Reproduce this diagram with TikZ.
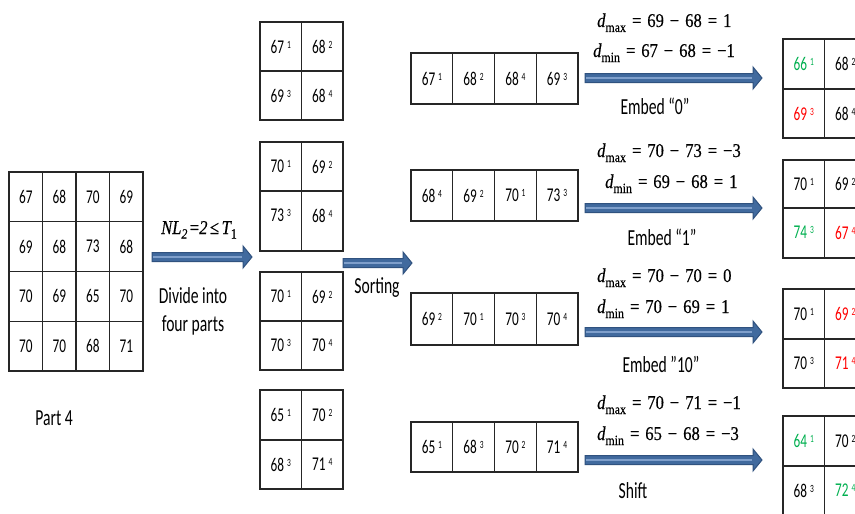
\RequirePackage{fix-cm}
\documentclass[tikz,border=0pt]{standalone}
\usepackage[no-math]{fontspec}
\setmainfont[FakeStretch=0.68]{Carlito}
\newfontfamily\fmfont[FakeStretch=0.85,FakeBold=0.4]{Liberation Serif}
\usepackage{graphicx}
\usetikzlibrary{calc}
\definecolor{arrfill}{HTML}{416A9E}
\definecolor{arrdraw}{HTML}{30527F}
\definecolor{arrlight}{HTML}{7F9FCB}
\definecolor{gr}{HTML}{00B050}
\definecolor{rd}{HTML}{FF0000}
\newcommand\ix[1]{\hspace{3pt}\raisebox{5pt}{\fontsize{11}{11}\selectfont #1}}
\newcommand\dsub[1]{{\itshape d}\raisebox{-5pt}{\fontsize{14}{14}\selectfont #1}}
\newcommand\op[1]{\hspace{6pt}#1\hspace{6pt}}
% block arrow from named coordinate #1 to named coordinate #2
\newcommand\barrow[2]{%
  \draw[barrowst] ($(#1)+(0,-4.5)$) -- ($(#2)+(-9,-4.5)$) -- ($(#2)+(-9,-11)$) -- (#2)
    -- ($(#2)+(-9,11)$) -- ($(#2)+(-9,4.5)$) -- ($(#1)+(0,4.5)$) -- cycle;
  \draw[arrlight, line width=1.4pt] ($(#1)+(1,0)$) -- ($(#2)+(-10,0)$);}
% 2x2 grid: prefix, x0, y0, y1, y2, four cell texts
\newcommand\twogrid[9]{%
  \draw[gridline] (#2,#3) rectangle (#2+83,#5);
  \draw[gridline] (#2+41.5,#3) -- (#2+41.5,#5);
  \draw[gridline] (#2,#4) -- (#2+83,#4);
  \node[cellt] (#1a) at (#2+20.75,{(#3+#4)/2}) {#6};
  \node[cellt] (#1b) at (#2+62.25,{(#3+#4)/2}) {#7};
  \node[cellt] (#1c) at (#2+20.75,#4+24.5) {#8};
  \node[cellt] (#1d) at (#2+62.25,#4+24.5) {#9};}
% 1x4 row: prefix, y0, y1, four cell texts
\newcommand\rowgrid[7]{%
  \draw[gridline] (411,#2) rectangle (578,#3);
  \foreach \q in {1,2,3}{\draw[gridline] (411+\q*41.75,#2) -- (411+\q*41.75,#3);}
  \node[cellt] (#1a) at (431.9,{(#2+#3)/2}) {#4};
  \node[cellt] (#1b) at (473.6,{(#2+#3)/2}) {#5};
  \node[cellt] (#1c) at (515.4,{(#2+#3)/2}) {#6};
  \node[cellt] (#1d) at (557.1,{(#2+#3)/2}) {#7};}
\begin{document}
\begin{tikzpicture}[x=1pt,y=-1pt,
  gridline/.style={draw=black!85, line width=1.2pt},
  cellt/.style={font=\fontsize{19.5}{20}\selectfont, inner sep=0pt},
  lbl/.style={font=\fontsize{23}{28}\selectfont, inner sep=0pt},
  fml/.style={font=\fmfont\fontsize{19.5}{20}\selectfont, inner sep=0pt, anchor=base west},
  barrowst/.style={fill=arrfill, draw=arrdraw, line width=1pt, line join=miter}]
\useasboundingbox (0,0) rectangle (855,514);
\clip (0,0) rectangle (855,514);
\fill[white] (0,0) rectangle (855,514);

% left 4x4 grid
\foreach \i in {0,...,3}{\foreach \j in {0,...,3}{
  \draw[gridline] (9+\i*33.5,172+\j*49.75) rectangle ++(33.5,49.75);}}
\foreach \v [count=\k from 0] in {67,68,70,69,69,68,73,68,70,69,65,70,70,70,68,71}{
  \pgfmathtruncatemacro\cc{mod(\k,4)}
  \pgfmathtruncatemacro\rr{int(\k/4)}
  \node[cellt] (L\k) at (25.75+\cc*33.5,196.9+\rr*49.75) {\v};}
\node[lbl] (part) at (54,418) {Part 4};

% first arrow
\coordinate (a1s) at (152,257); \coordinate (a1e) at (252,257);
\barrow{a1s}{a1e}
\node[fml, anchor=base] (nl) at (199,234) {{\itshape NL}\raisebox{-4.5pt}{\fontsize{14}{14}\selectfont\itshape 2}\hspace{2.5pt}={\itshape 2}\hspace{2.5pt}≤\hspace{2.5pt}{\itshape T}\raisebox{-4.5pt}{\fontsize{14}{14}\selectfont 1}};
\node[lbl, align=center] (div) at (193,311) {Divide into\\four parts};

% 2x2 grids
\twogrid{A}{260}{22}{71}{120}{67\ix{1}}{68\ix{2}}{69\ix{3}}{68\ix{4}}
\twogrid{B}{260}{142}{191}{251}{70\ix{1}}{69\ix{2}}{73\ix{3}}{68\ix{4}}
\twogrid{C}{260}{272}{321}{370}{70\ix{1}}{69\ix{2}}{70\ix{3}}{70\ix{4}}
\twogrid{D}{260}{390}{440}{489}{65\ix{1}}{70\ix{2}}{68\ix{3}}{71\ix{4}}

% sorting arrow
\coordinate (a2s) at (343,263); \coordinate (a2e) at (412,263);
\barrow{a2s}{a2e}
\node[lbl] (sort) at (377,288) {Sorting};

% sorted rows
\rowgrid{Ra}{53}{104}{67\ix{1}}{68\ix{2}}{68\ix{4}}{69\ix{3}}
\rowgrid{Rb}{170}{221}{68\ix{4}}{69\ix{2}}{70\ix{1}}{73\ix{3}}
\rowgrid{Rc}{293}{345}{69\ix{2}}{70\ix{1}}{70\ix{3}}{70\ix{4}}
\rowgrid{Rd}{422}{472}{65\ix{1}}{68\ix{3}}{70\ix{2}}{71\ix{4}}

% right arrows
\coordinate (b1s) at (585,78);  \coordinate (b1e) at (762,78);
\coordinate (b2s) at (585,208); \coordinate (b2e) at (762,208);
\coordinate (b3s) at (585,332); \coordinate (b3e) at (762,332);
\coordinate (b4s) at (585,460); \coordinate (b4e) at (762,460);
\barrow{b1s}{b1e}
\barrow{b2s}{b2e}
\barrow{b3s}{b3e}
\barrow{b4s}{b4e}

% formulas
\node[fml] (f1a) at (597,27)  {\dsub{max}\op{=}69\op{−}68\op{=}1};
\node[fml] (f1b) at (593,57)  {\dsub{min}\op{=}67\op{−}68\op{=}−1};
\node[fml] (f2a) at (597,157) {\dsub{max}\op{=}70\op{−}73\op{=}−3};
\node[fml] (f2b) at (605,188) {\dsub{min}\op{=}69\op{−}68\op{=}1};
\node[fml] (f3a) at (597,282) {\dsub{max}\op{=}70\op{−}70\op{=}0};
\node[fml] (f3b) at (597,313) {\dsub{min}\op{=}70\op{−}69\op{=}1};
\node[fml] (f4a) at (597,409) {\dsub{max}\op{=}70\op{−}71\op{=}−1};
\node[fml] (f4b) at (597,440) {\dsub{min}\op{=}65\op{−}68\op{=}−3};

\node[lbl, anchor=base] (e1) at (655,114) {Embed “0”};
\node[lbl, anchor=base] (e2) at (662,245) {Embed “1”};
\node[lbl, anchor=base] (e3) at (661,372) {Embed ”10”};
\node[lbl, anchor=base] (e4) at (633,498) {Shift};

% result grids (cut by the right edge)
\twogrid{E}{783}{39}{89}{138}{\color{gr}66\ix{1}}{68\ix{2}}{\color{rd}69\ix{3}}{68\ix{4}}
\twogrid{F}{783}{160}{208}{258}{70\ix{1}}{69\ix{2}}{\color{gr}74\ix{3}}{\color{rd}67\ix{4}}
\twogrid{G}{783}{289}{339}{388}{70\ix{1}}{\color{rd}69\ix{2}}{70\ix{3}}{\color{rd}71\ix{4}}
\twogrid{H}{783}{416}{466}{516}{\color{gr}64\ix{1}}{70\ix{2}}{68\ix{3}}{\color{gr}72\ix{4}}
\end{tikzpicture}
\end{document}
